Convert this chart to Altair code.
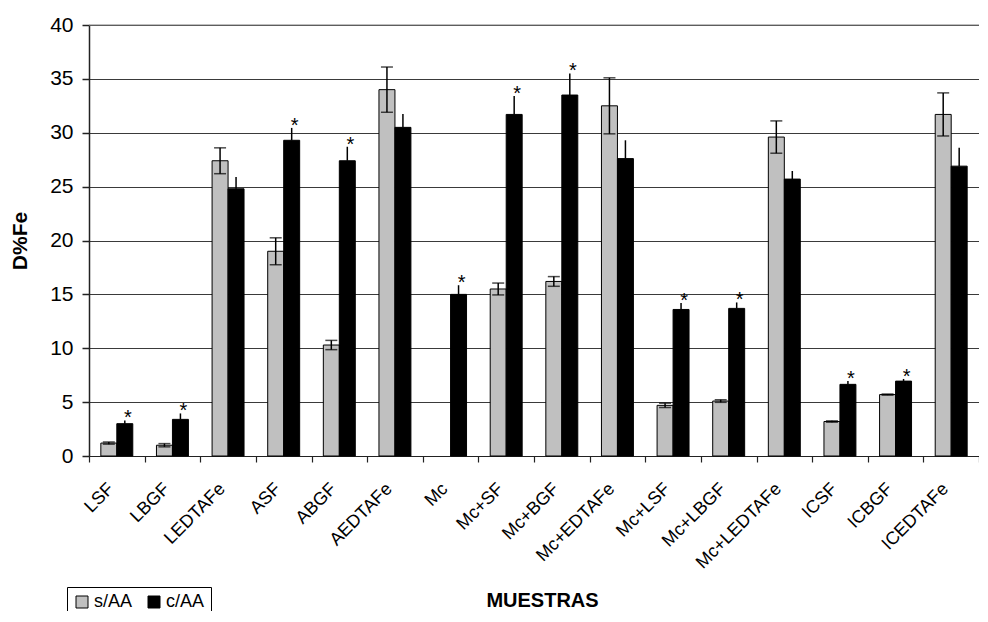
import altair as alt
import pandas as pd

categories = ["LSF", "LBGF", "LEDTAFe", "ASF", "ABGF", "AEDTAFe", "Mc", "Mc+SF",
              "Mc+BGF", "Mc+EDTAFe", "Mc+LSF", "Mc+LBGF", "Mc+LEDTAFe", "ICSF",
              "ICBGF", "ICEDTAFe"]
series = ["s/AA", "c/AA"]
s_values = [1.2, 1.0, 27.4, 19.0, 10.3, 34.0, None, 15.5, 16.2, 32.5, 4.7, 5.1, 29.6, 3.2, 5.7, 31.7]
s_errors = [0.1, 0.15, 1.2, 1.25, 0.43, 2.1, None, 0.55, 0.45, 2.6, 0.2, 0.12, 1.5, 0.06, 0.05, 2.0]
c_values = [3.0, 3.4, 24.8, 29.3, 27.4, 30.5, 15.0, 31.7, 33.5, 27.6, 13.6, 13.7, 25.7, 6.65, 6.95, 26.9]
c_errors = [0.3, 0.55, 1.1, 1.15, 1.3, 1.25, 0.85, 1.7, 2.0, 1.7, 0.6, 0.55, 0.75, 0.3, 0.2, 1.7]
significant = [1, 1, 0, 1, 1, 0, 1, 1, 1, 0, 1, 1, 0, 1, 1, 0]
y_ticks = [0, 5, 10, 15, 20, 25, 30, 35, 40]

rows = []
for i, cat in enumerate(categories):
    if s_values[i] is not None:
        rows.append({"cat": cat, "serie": "s/AA", "v": s_values[i],
                     "lo": s_values[i] - s_errors[i], "hi": s_values[i] + s_errors[i],
                     "sig": 0, "cap": 1})
    rows.append({"cat": cat, "serie": "c/AA", "v": c_values[i],
                 "lo": c_values[i], "hi": c_values[i] + c_errors[i],
                 "sig": significant[i], "cap": 0})
df = pd.DataFrame(rows)

FONT = "Liberation Sans"
W, H = 890, 431

x_enc = alt.X("cat:N", sort=categories,
              scale=alt.Scale(paddingInner=0, paddingOuter=0),
              axis=alt.Axis(title="MUESTRAS", tickBand="extent", labelAngle=-45,
                            labelAlign="right", labelBaseline="middle",
                            labelFont=FONT, labelFontSize=18, labelColor="black",
                            labelPadding=24, labelOffset=-6,
                            tickSize=6, tickColor="#222", tickWidth=1.2,
                            domainColor="#222", domainWidth=1.2,
                            titleFont=FONT, titleFontSize=20, titleFontWeight="bold",
                            titleColor="black", titleX=453, titleY=144,
                            titleBaseline="middle", titleAlign="center"))
xo_enc = alt.XOffset("serie:N", sort=series,
                     scale=alt.Scale(paddingInner=0, paddingOuter=0.74))
y_scale = alt.Scale(domain=[0, 40], nice=False)

bars = alt.Chart(df).mark_bar(stroke="black", strokeWidth=1).encode(
    x=x_enc,
    xOffset=xo_enc,
    y=alt.Y("v:Q", scale=y_scale,
            axis=alt.Axis(title="D%Fe", values=y_ticks, grid=True, gridColor="#3a3a3a",
                          gridWidth=1, labelFont=FONT, labelFontSize=21,
                          labelColor="black", labelPadding=9, tickSize=7,
                          tickColor="#222", tickWidth=1.5, domainColor="#222",
                          domainWidth=1.5, titleFont=FONT, titleFontSize=21,
                          titleFontWeight="bold", titleColor="black",
                          titlePadding=19)),
    color=alt.Color("serie:N", sort=series,
                    scale=alt.Scale(domain=series, range=["#C0C0C0", "#000000"]),
                    legend=alt.Legend(title=None, orient="none", legendX=-22, legendY=562,
                                      direction="horizontal", strokeColor="black",
                                      fillColor="white", padding=6,
                                      symbolType="square", symbolSize=144,
                                      symbolStrokeColor="black", symbolStrokeWidth=1,
                                      labelFont=FONT, labelFontSize=18,
                                      labelColor="black", columnPadding=12,
                                      labelOffset=3)),
)

err = alt.Chart(df).mark_rule(color="black", strokeWidth=1.5).encode(
    x=alt.X("cat:N", sort=categories), xOffset=xo_enc,
    y=alt.Y("lo:Q", scale=y_scale), y2="hi:Q")

caps_hi = alt.Chart(df).transform_filter("datum.cap == 1").mark_tick(
    color="black", orient="horizontal", size=12, thickness=1.5).encode(
    x=alt.X("cat:N", sort=categories), xOffset=xo_enc,
    y=alt.Y("hi:Q", scale=y_scale))
caps_lo = alt.Chart(df).transform_filter("datum.cap == 1").mark_tick(
    color="black", orient="horizontal", size=12, thickness=1.5).encode(
    x=alt.X("cat:N", sort=categories), xOffset=xo_enc,
    y=alt.Y("lo:Q", scale=y_scale))

stars = alt.Chart(df).transform_filter("datum.sig == 1").mark_text(
    text="*", font=FONT, fontSize=20, color="black", baseline="alphabetic",
    dx=3, dy=4).encode(
    x=alt.X("cat:N", sort=categories), xOffset=xo_enc,
    y=alt.Y("hi:Q", scale=y_scale))

top_line = alt.Chart(pd.DataFrame({"t": [40]})).mark_rule(
    color="#808080", strokeWidth=1.2).encode(y=alt.Y("t:Q", scale=y_scale))

chart = alt.layer(bars, err, caps_hi, caps_lo, stars, top_line).properties(
    width=W, height=H,
    autosize=alt.AutoSizeParams(type="none"),
    padding={"left": 81, "top": 17, "right": 0, "bottom": 155},
).configure_view(stroke=None).configure(background="white")

chart.save("out.html", embed_options={"renderer": "svg", "actions": False})
